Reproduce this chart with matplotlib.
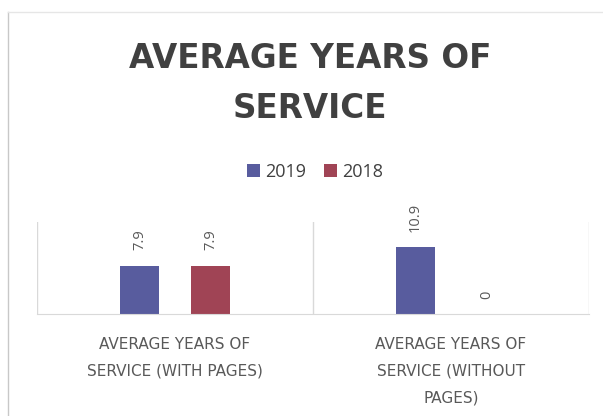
import matplotlib.pyplot as plt
import numpy as np

categories = ['AVERAGE YEARS OF\nSERVICE (WITH PAGES)', 'AVERAGE YEARS OF\nSERVICE (WITHOUT\nPAGES)']
series_names = ['2019', '2018']
values_2019 = [7.9, 10.9]
values_2018 = [7.9, 0]
labels_2019 = ['7.9', '10.9']
labels_2018 = ['7.9', '0']

blue = '#585C9E'
red = '#A04455'
grid_col = '#D9D9D9'
text_col = '#595959'

plt.rcParams['font.family'] = ['Open Sans', 'DejaVu Sans']

fig = plt.figure(figsize=(6.03, 4.16), dpi=100)
ax = fig.add_axes([37/603, 1-314/416, (589-37)/603, (314-222)/416])

x = np.arange(len(categories))
w = 0.14
off = 0.129
b1 = ax.bar(x - off, values_2019, w, color=blue, label=series_names[0])
b2 = ax.bar(x + off, values_2018, w, color=red, label=series_names[1])

for bars, labs in [(b1, labels_2019), (b2, labels_2018)]:
    for b, t in zip(bars, labs):
        ax.annotate(t, (b.get_x() + b.get_width()/2, b.get_height()),
                    xytext=(0, 11), textcoords='offset points',
                    rotation=90, ha='center', va='bottom',
                    fontsize=10.5, color=text_col)

ax.set_xlim(-0.5, 1.5)
ax.set_ylim(0, 15)
ax.set_yticks([])
ax.set_xticks(x)
ax.set_xticklabels(categories, fontsize=11, color=text_col, linespacing=1.97,
                   family='DejaVu Sans')
ax.tick_params(axis='x', length=0, pad=16.5)
for s in ['top', 'left', 'right']:
    ax.spines[s].set_visible(False)
ax.spines['bottom'].set_color(grid_col)
for xv in [-0.5, 0.5, 1.5]:
    ax.axvline(xv, color=grid_col, lw=1)

fig.text(310/603, 1-58/416, 'AVERAGE YEARS OF', ha='center', va='center',
         fontsize=23.5, fontweight='bold', color='#404040', family='DejaVu Sans')
fig.text(310/603, 1-108/416, 'SERVICE', ha='center', va='center',
         fontsize=23.5, fontweight='bold', color='#404040', family='DejaVu Sans')

fig.legend(loc='center', bbox_to_anchor=(315/603, 1-172/416), ncol=2, frameon=False,
           fontsize=13, handlelength=0.7, handleheight=0.7, handletextpad=0.3,
           columnspacing=1.0, labelcolor='#404040')

# chart area border (left and top edges visible)
fig.add_artist(plt.Line2D([8/603, 8/603], [0, 1-12/416], color='#C8C8C8', lw=1))
fig.add_artist(plt.Line2D([8/603, 1], [1-12/416, 1-12/416], color='#E6E6E6', lw=1))

fig.savefig('out.png', dpi=100)
